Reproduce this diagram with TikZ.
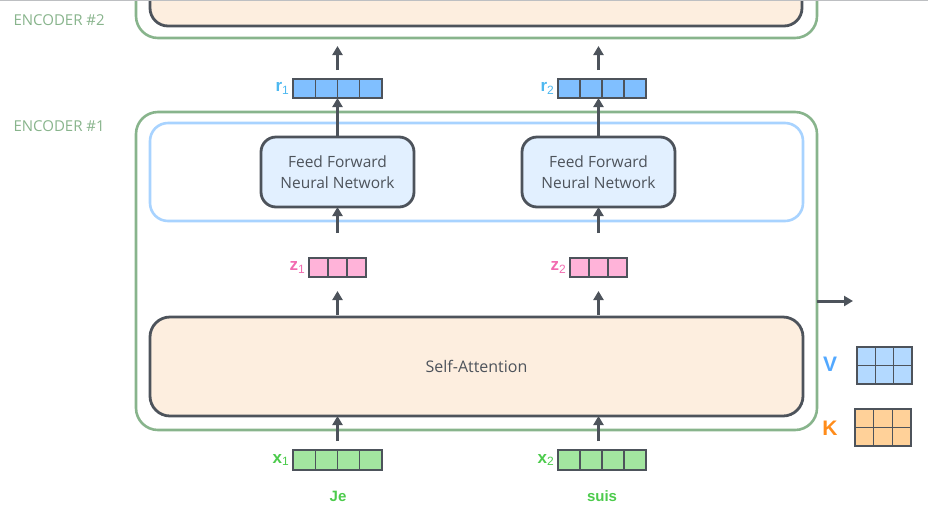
\documentclass[tikz,border=0pt]{standalone}
\usepackage{fontspec}
\setmainfont{Open Sans}
\newfontfamily\labfont{Liberation Sans}
\usetikzlibrary{arrows.meta,calc}
\definecolor{encgreen}{HTML}{88B48C}
\definecolor{ffblue}{HTML}{A8D3FF}
\definecolor{darkline}{HTML}{4D535B}
\definecolor{peach}{HTML}{FDEEDF}
\definecolor{fffill}{HTML}{E2F0FF}
\definecolor{rfill}{HTML}{80BFFF}
\definecolor{rlab}{HTML}{4DB8F0}
\definecolor{zfill}{HTML}{FFB3D9}
\definecolor{zlab}{HTML}{F26BB0}
\definecolor{xfill}{HTML}{A3E6A0}
\definecolor{xlab}{HTML}{4CCB4C}
\definecolor{vfill}{HTML}{B3D9FF}
\definecolor{vlab}{HTML}{52A8FF}
\definecolor{kfill}{HTML}{FFD199}
\definecolor{klab}{HTML}{FF8C1A}
\definecolor{topgray}{HTML}{BDBFC2}
\newcommand\colsplit[2]{\foreach \f in {#2}{\draw[cellline] ($(#1.north west)!\f!(#1.north east)$) -- ($(#1.south west)!\f!(#1.south east)$);}}
\newcommand\rowsplit[2]{\foreach \f in {#2}{\draw[cellline] ($(#1.north west)!\f!(#1.south west)$) -- ($(#1.north east)!\f!(#1.south east)$);}}
\newcommand\veclab[2]{{\labfont\bfseries\fontsize{17}{17}\selectfont #1}\raisebox{-2.5pt}{\labfont\fontsize{12}{12}\selectfont #2}}
\tikzset{
  encbox/.style={draw=encgreen, line width=2.6pt, rounded corners=22pt, inner sep=0pt, outer sep=0pt},
  ffouter/.style={draw=ffblue, line width=2.6pt, rounded corners=18pt, fill=white, inner sep=0pt, outer sep=0pt},
  darkbox/.style={draw=darkline, line width=2.8pt, rounded corners=18pt, inner sep=0pt, outer sep=0pt},
  ffbox/.style={darkbox, fill=fffill, rounded corners=15pt, minimum width=153pt, minimum height=70pt,
     font=\fontsize{15.5}{20.5}\selectfont, text=darkline, align=center},
  vecbox/.style={draw=darkline, line width=1.3pt, inner sep=0pt, outer sep=0pt},
  cellline/.style={draw=darkline, line width=1.3pt},
  veclabel/.style={anchor=east, inner sep=0pt, xshift=-4pt},
  arr/.style={draw=darkline, line width=3pt, -{Triangle[width=10pt,length=9pt]}},
  enclab/.style={text=encgreen, font=\fontsize{15}{15}\selectfont},
  word/.style={text=xlab, font=\labfont\bfseries\fontsize{15}{15}\selectfont},
}
\begin{document}
\begin{tikzpicture}[x=1pt,y=-1pt]
\useasboundingbox (0,0) rectangle (928,515);
\clip (0,0) rectangle (928,515);
% encoder 2 (cut off at top)
\node[encbox, minimum width=681pt, minimum height=100pt] (enc2) at (476.5,-12) {};
\node[darkbox, fill=peach, minimum width=652pt, minimum height=90pt] (enc2in) at (476,-19) {};
\draw[topgray, line width=1.5pt] (0,0.5) -- (928,0.5);
\node[enclab, anchor=west] (lab2) at (10,20) {ENCODER \#2};
\node[enclab, anchor=west] (lab1) at (10,126) {ENCODER \#1};
% encoder 1
\node[encbox, minimum width=681pt, minimum height=318pt] (enc1) at (476.5,271) {};
\node[ffouter, minimum width=653pt, minimum height=98pt] (ffo) at (476.5,172) {};
\node[ffbox] (ff1) at (337.5,172) {Feed Forward\\Neural Network};
\node[ffbox] (ff2) at (598.5,172) {Feed Forward\\Neural Network};
\node[darkbox, fill=peach, rounded corners=20pt, minimum width=653pt, minimum height=99pt,
      font=\fontsize{16}{16}\selectfont, text=darkline] (sa) at (476.5,366.5) {Self-Attention};
% r vectors
\node[vecbox, fill=rfill, minimum width=89pt, minimum height=19pt] (r1) at (337.5,88.5) {};
\node[vecbox, fill=rfill, minimum width=88pt, minimum height=19pt] (r2) at (602,88.5) {};
\colsplit{r1}{0.25,0.5,0.75}\colsplit{r2}{0.25,0.5,0.75}
\node[text=rlab, veclabel] (r1l) at (r1.west) {\veclab{r}{1}};
\node[text=rlab, veclabel] (r2l) at (r2.west) {\veclab{r}{2}};
% z vectors
\node[vecbox, fill=zfill, minimum width=57pt, minimum height=19pt] (z1) at (337.5,267.5) {};
\node[vecbox, fill=zfill, minimum width=57pt, minimum height=19pt] (z2) at (598.5,267.5) {};
\colsplit{z1}{0.3333,0.6667}\colsplit{z2}{0.3333,0.6667}
\node[text=zlab, veclabel] (z1l) at (z1.west) {\veclab{z}{1}};
\node[text=zlab, veclabel] (z2l) at (z2.west) {\veclab{z}{2}};
% x vectors
\node[vecbox, fill=xfill, minimum width=89pt, minimum height=20pt] (x1) at (337.5,460) {};
\node[vecbox, fill=xfill, minimum width=88pt, minimum height=20pt] (x2) at (602,460) {};
\colsplit{x1}{0.25,0.5,0.75}\colsplit{x2}{0.25,0.5,0.75}
\node[text=xlab, veclabel] (x1l) at (x1.west) {\veclab{x}{1}};
\node[text=xlab, veclabel] (x2l) at (x2.west) {\veclab{x}{2}};
\node[word] (je) at (338,496) {Je};
\node[word] (suis) at (602,496) {suis};
% V and K matrices
\node[vecbox, fill=vfill, minimum width=55pt, minimum height=37pt] (vm) at (884.5,365.5) {};
\colsplit{vm}{0.3333,0.6667}\rowsplit{vm}{0.5}
\node[text=vlab, font=\labfont\bfseries\fontsize{21}{21}\selectfont] (vl) at (830,364) {V};
\node[vecbox, fill=kfill, minimum width=56pt, minimum height=37pt] (km) at (883,427.5) {};
\colsplit{km}{0.3333,0.6667}\rowsplit{km}{0.5}
\node[text=klab, font=\labfont\bfseries\fontsize{21}{21}\selectfont] (kl) at (830,428) {K};
% arrows
\draw[arr, shorten <=9pt] (x1.north) -- (x1.north |- sa.south);
\draw[arr, shorten <=9pt] (x2.north -| ff2) -- (ff2 |- sa.south);
\draw[arr, shorten <=2pt, shorten >=14pt] (sa.north -| z1) -- (z1.south);
\draw[arr, shorten <=2pt, shorten >=14pt] (sa.north -| z2) -- (z2.south);
\draw[arr, shorten <=25pt] (z1.north) -- (ff1.south);
\draw[arr, shorten <=25pt] (z2.north) -- (ff2.south);
\draw[arr] (ff1.north) -- (ff1.north |- r1.south);
\draw[arr] (ff2.north) -- (ff2.north |- r2.south);
\draw[arr, shorten <=9pt, shorten >=8pt] (r1.north) -- (r1.north |- enc2.south);
\draw[arr, shorten <=9pt, shorten >=8pt] (ff2 |- r2.north) -- (ff2 |- enc2.south);
\coordinate (out) at (853,301);
\draw[arr] (enc1.east |- out) -- (out);
\end{tikzpicture}
\end{document}
